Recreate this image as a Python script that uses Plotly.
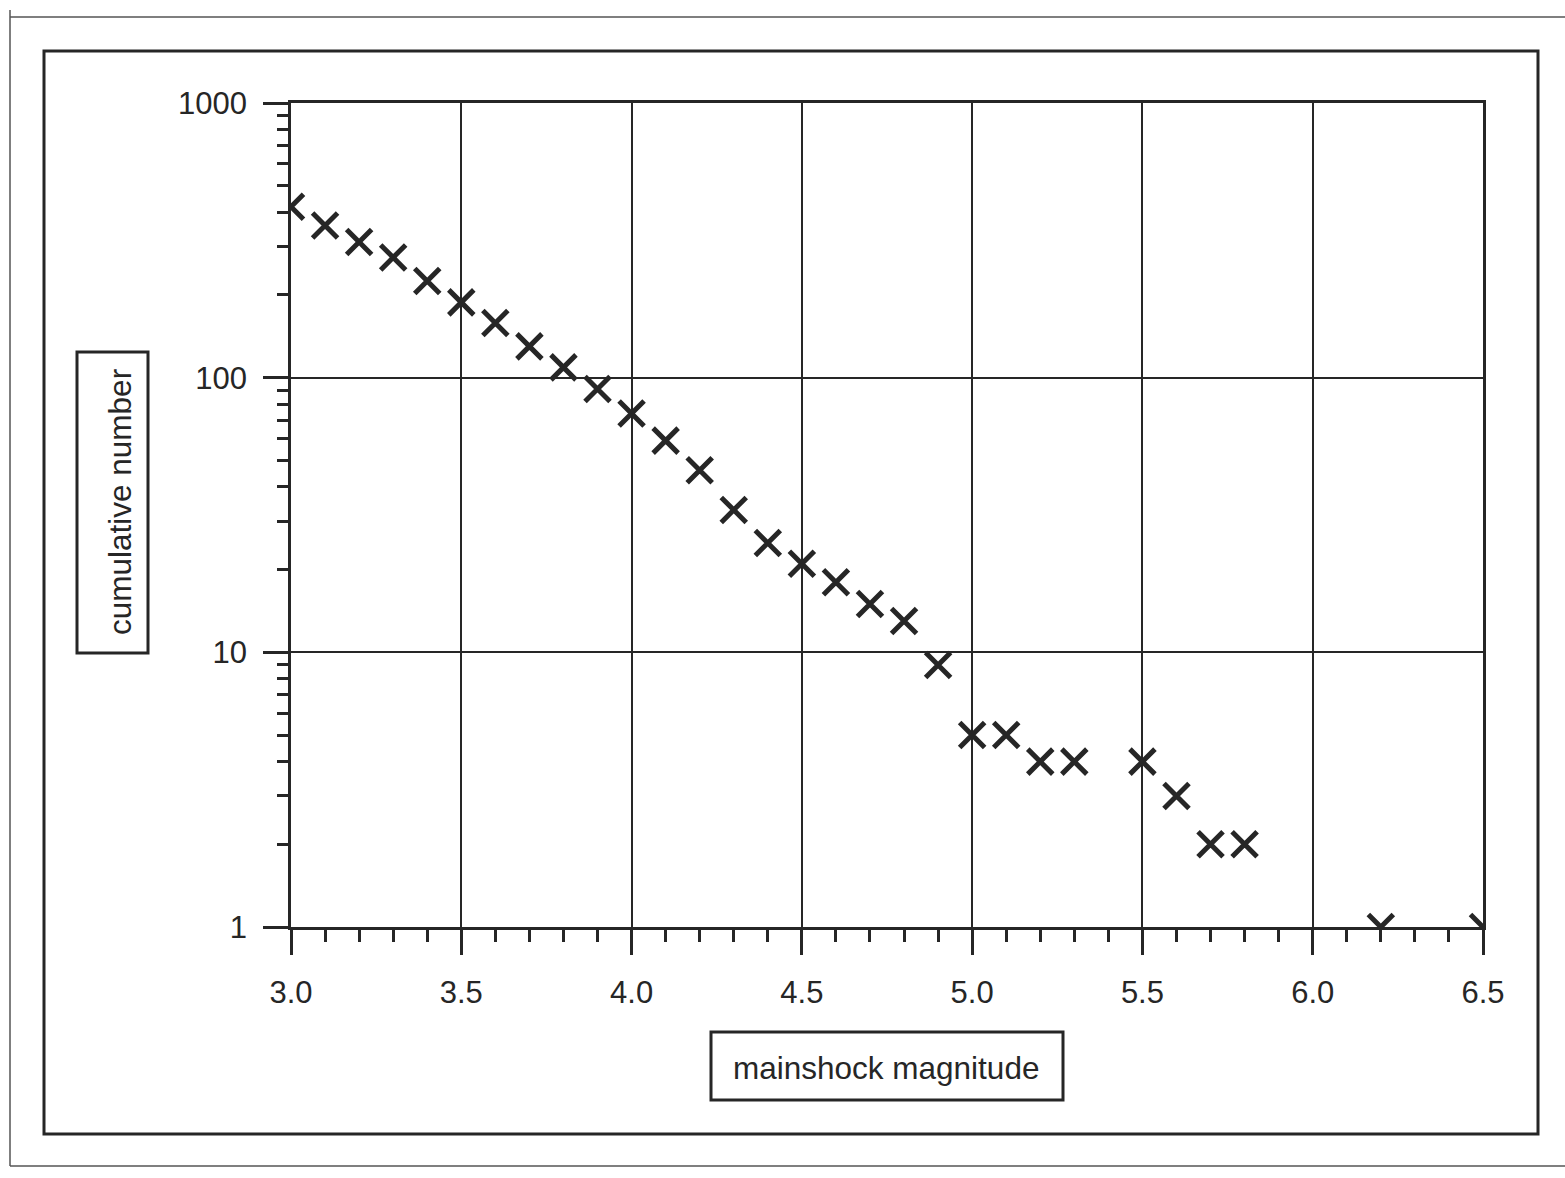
import plotly.graph_objects as go

# Cumulative number of mainshocks at or above each magnitude
magnitude = [3.0, 3.1, 3.2, 3.3, 3.4, 3.5, 3.6, 3.7, 3.8, 3.9,
             4.0, 4.1, 4.2, 4.3, 4.4, 4.5, 4.6, 4.7, 4.8, 4.9,
             5.0, 5.1, 5.2, 5.3, 5.5, 5.6, 5.7, 5.8, 6.2, 6.5]
cumulative = [419, 358, 312, 274, 225, 188, 158, 130, 109, 91,
              74, 59, 46, 33, 25, 21, 18, 15, 13, 9,
              5, 5, 4, 4, 4, 3, 2, 2, 1, 1]

x_ticks = [3.0, 3.5, 4.0, 4.5, 5.0, 5.5, 6.0, 6.5]
y_ticks = [1, 10, 100, 1000]
y_tick_text = ["1", "10", "100", "1000"]

W, H = 1565, 1178
L, R, T, B = 291, 82, 103, 251
PW, PH = W - L - R, H - T - B

INK = "#262626"
FONT = "Liberation Sans, Arial, Helvetica, sans-serif"


def xp(px):
    return (px - L) / PW


def yp(py):
    return (H - B - py) / PH


fig = go.Figure()
fig.add_trace(go.Scatter(
    x=magnitude, y=cumulative, mode="markers",
    marker=dict(symbol="x-thin", size=25, color=INK,
                line=dict(width=5, color=INK)),
    cliponaxis=True, showlegend=False, hoverinfo="x+y",
))

axis_common = dict(
    showgrid=True, gridcolor=INK, gridwidth=2,
    showline=True, linecolor=INK, linewidth=2.5, mirror=True,
    ticks="outside", ticklen=25, tickwidth=2.5, tickcolor=INK,
    zeroline=False,
    tickfont=dict(family=FONT, size=31, color=INK),
)

fig.update_xaxes(
    range=[3.0, 6.5], tickvals=x_ticks, tickformat=".1f",
    ticklabelstandoff=11,
    minor=dict(dtick=0.1, tick0=3.0, ticks="outside", ticklen=12,
               tickwidth=2.5, tickcolor=INK, showgrid=False),
    **axis_common,
)
fig.update_yaxes(
    type="log", range=[0, 3], tickvals=y_ticks, ticktext=y_tick_text,
    ticklabelstandoff=10,
    minor=dict(dtick="D1", ticks="outside", ticklen=11,
               tickwidth=2.5, tickcolor=INK, showgrid=False),
    **axis_common,
)

shapes = [
    # page edge lines
    dict(type="line", x0=xp(10), x1=xp(10), y0=yp(10), y1=yp(1166),
         line=dict(color="#555555", width=1.5)),
    dict(type="line", x0=xp(10), x1=xp(1600), y0=yp(17), y1=yp(17),
         line=dict(color="#555555", width=1.5)),
    dict(type="line", x0=xp(10), x1=xp(1600), y0=yp(1166), y1=yp(1166),
         line=dict(color="#555555", width=1.5)),
    # chart frame
    dict(type="rect", x0=xp(44), x1=xp(1538), y0=yp(51), y1=yp(1134),
         line=dict(color=INK, width=3)),
    # axis title boxes
    dict(type="rect", x0=xp(77), x1=xp(148), y0=yp(352), y1=yp(653),
         line=dict(color=INK, width=3)),
    dict(type="rect", x0=xp(711), x1=xp(1063), y0=yp(1032), y1=yp(1100),
         line=dict(color=INK, width=3)),
]
for s in shapes:
    s.update(xref="paper", yref="paper", layer="above")

annotations = [
    dict(text="cumulative number", x=xp(120), y=yp(502), textangle=-90,
         xanchor="center", yanchor="middle", showarrow=False,
         font=dict(family=FONT, size=31.5, color=INK)),
    dict(text="mainshock magnitude", x=xp(886), y=yp(1068),
         xanchor="center", yanchor="middle", showarrow=False,
         font=dict(family=FONT, size=31.5, color=INK)),
]
for a in annotations:
    a.update(xref="paper", yref="paper")

fig.update_layout(
    width=W, height=H, autosize=False,
    margin=dict(l=L, r=R, t=T, b=B, pad=0),
    paper_bgcolor="white", plot_bgcolor="white",
    shapes=shapes, annotations=annotations,
    font=dict(family=FONT, color=INK),
)

fig.write_html("out.html")
